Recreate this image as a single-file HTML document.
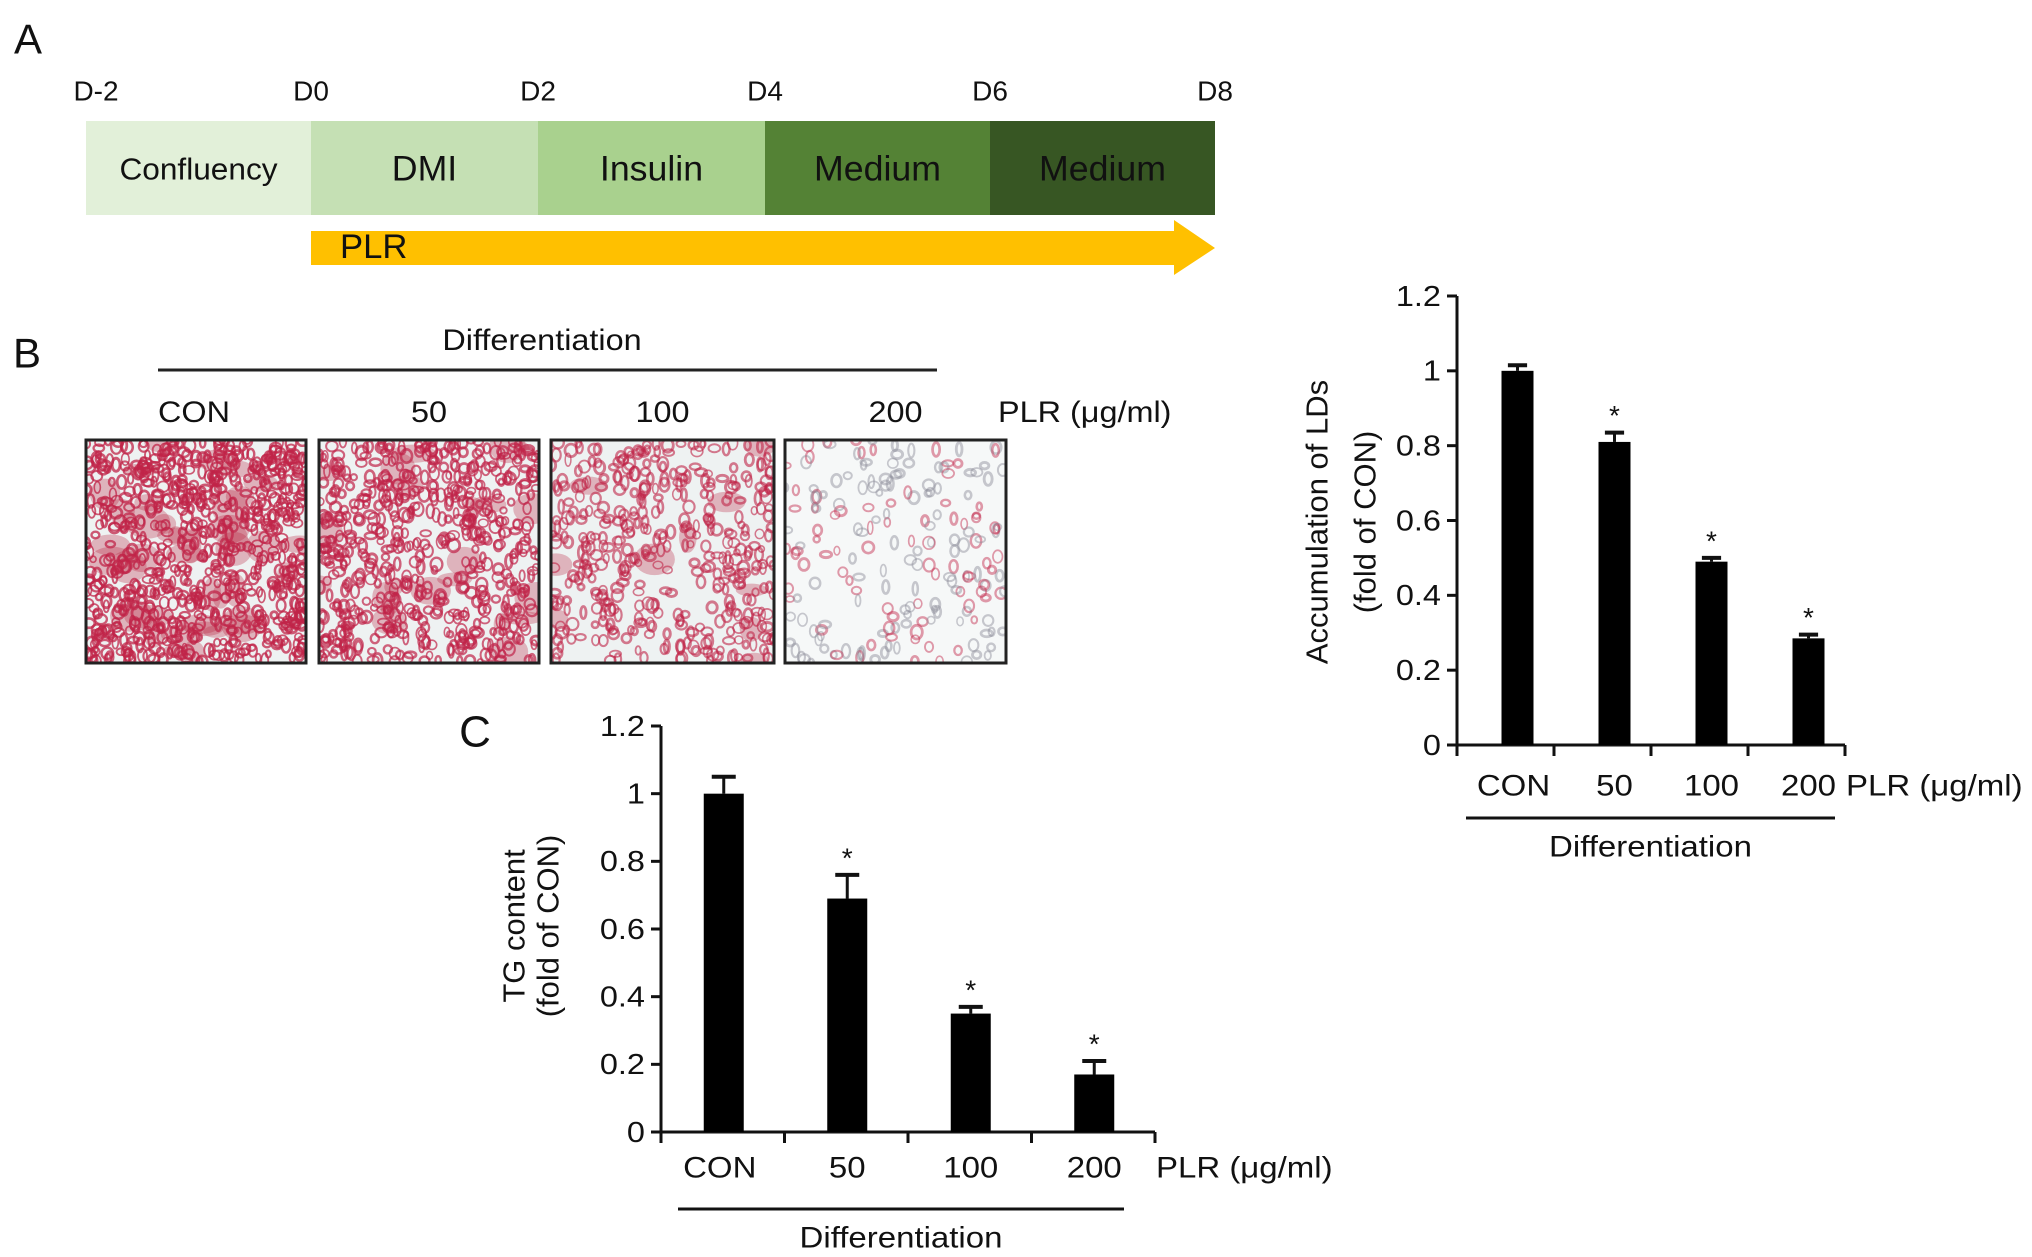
<!DOCTYPE html>
<html><head><meta charset="utf-8"><style>
html,body{margin:0;padding:0;background:#fff;}
svg{display:block;font-family:"Liberation Sans",Arial,sans-serif;}
</style></head><body>
<svg id="fig" width="2032" height="1257" viewBox="0 0 2032 1257" xmlns="http://www.w3.org/2000/svg"></svg>
<script>
// ---- Chart data ----
const categories = ["CON","50","100","200"];
const ldValues = [1.0, 0.81, 0.49, 0.285];
const ldErrors = [0.015, 0.025, 0.01, 0.01];
const ldStars = [false, true, true, true];
const tgValues = [1.0, 0.69, 0.35, 0.17];
const tgErrors = [0.05, 0.07, 0.02, 0.04];
const tgStars = [false, true, true, true];
const yTicks = [0, 0.2, 0.4, 0.6, 0.8, 1, 1.2];
const yTickLabels = ["0","0.2","0.4","0.6","0.8","1","1.2"];
const dayLabels = ["D-2","D0","D2","D4","D6","D8"];
const stageLabels = ["Confluency","DMI","Insulin","Medium","Medium"];

const NS="http://www.w3.org/2000/svg";
const svg=document.getElementById('fig');
function el(tag,attrs,parent){const e=document.createElementNS(NS,tag);for(const k in attrs)e.setAttribute(k,attrs[k]);(parent||svg).appendChild(e);return e;}
function txt(x,y,s,size,anchor,sx,parent,name){
  const t=el('text',{x:0,y:0,'font-size':size,'text-anchor':anchor||'middle','dominant-baseline':'central',fill:'#111',transform:`translate(${x},${y}) scale(${sx||1},1)`},parent);
  t.textContent=s;
  
  
  return t;
}

// ---- Panel letters ----
txt(28,39,"A",42,'middle',1,null,'panel-a-label');
txt(27,353,"B",42,'middle',1,null,'panel-b-label');
txt(475,732,"C",44,'middle',1,null,'panel-c-label');

// ---- Panel A timeline ----
const bounds=[86,311,538,765,990,1215];
const stageColors=["#e2f0d9","#c5e0b4","#a9d18e","#548235","#375623"];
const gA=el('g',{});


dayLabels.forEach((d,i)=>{ txt(bounds[i]+ (i===0?10:0),91,d,28,'middle',1.0,gA,'day-label'); });
stageLabels.forEach((s,i)=>{
  const r=el('rect',{x:bounds[i],y:121,width:bounds[i+1]-bounds[i],height:94,fill:stageColors[i]},gA);
  
  
  txt((bounds[i]+bounds[i+1])/2,169,s,i===0?31:35,'middle',1.02,gA,'stage-label');
});
const arrow=el('polygon',{points:"311,231 1174,231 1174,220 1215,248 1174,275 1174,265 311,265",fill:"#ffc000"},gA);


txt(340,247,"PLR",34,'start',1.02,gA,'plr-arrow-label');

// ---- Panel B micrographs ----
txt(542,340,"Differentiation",30,'middle',1.08,null,'differentiation-label');
el('line',{x1:158,y1:370,x2:937,y2:370,stroke:'#222','stroke-width':3});
const imgX=[86,319,551,785], imgW=[220,220,223,221];
categories.forEach((c,i)=>txt(imgX[i]+imgW[i]/2+ (i===0?-2:0),412,c,30,'middle',1.08,null,'dose-label'));
txt(998,412,"PLR (μg/ml)",30,'start',1.08,null,'plr-unit-label');
let seed=12345;function rnd(){seed=(seed*1103515245+12345)%2147483648;return seed/2147483648;}
const dens=[750,600,420,200], redAlpha=[0.75,0.7,0.6,0.45];
imgX.forEach((x,i)=>{
  const g=el('g',{});
  
  
  el('rect',{x:x,y:440,width:imgW[i],height:223,fill:i===3?'#f6f8f8':'#eef2f2'},g);
  const cp=el('clipPath',{id:'cp'+i},g);
  el('rect',{x:x,y:440,width:imgW[i],height:223},cp);
  const inner=el('g',{'clip-path':`url(#cp${i})`},g);
  if(i<3){for(let k=0;k<[40,22,10][i];k++){el('ellipse',{cx:x+rnd()*imgW[i],cy:440+rnd()*223,rx:8+rnd()*16,ry:6+rnd()*12,fill:'#b8203f','fill-opacity':0.3},inner);}}
  for(let k=0;k<dens[i];k++){
    const gray=i===3&&rnd()<0.55;
    el('ellipse',{cx:x+rnd()*imgW[i],cy:440+rnd()*223,rx:2.5+rnd()*3.5,ry:3+rnd()*4,fill:'none',stroke:gray?'#8a8a96':'#c02448','stroke-width':1.5+rnd()*1.5,'stroke-opacity':redAlpha[i]},inner);
  }
  el('rect',{x:x,y:440,width:imgW[i],height:223,fill:'none',stroke:'#222','stroke-width':3},g);
});

// ---- Bar chart helper ----
function barChart(o){
  const g=el('g',{});
  
  
  const yS=v=>o.y0-(v/1.2)*(o.y0-o.y12);
  el('line',{x1:o.ax,y1:o.y12,x2:o.ax,y2:o.y0+11,stroke:'#111','stroke-width':3},g);
  el('line',{x1:o.ax,y1:o.y0,x2:o.xEnd,y2:o.y0,stroke:'#111','stroke-width':3},g);
  yTicks.forEach((t,i)=>{
    el('line',{x1:o.ax-10,y1:yS(t),x2:o.ax,y2:yS(t),stroke:'#111','stroke-width':3},g);
    txt(o.ax-16,yS(t),yTickLabels[i],29,'end',1.12,g,'y-tick-label');
  });
  const step=(o.xEnd-o.ax)/categories.length;
  for(let i=0;i<=categories.length;i++){el('line',{x1:o.ax+i*step,y1:o.y0,x2:o.ax+i*step,y2:o.y0+11,stroke:'#111','stroke-width':3},g);}
  categories.forEach((c,i)=>{
    const cx=o.ax+step*(i+0.5)-o.shift;
    const v=o.values[i],e=o.errors[i];
    const top=yS(v+e);
    el('line',{x1:cx,y1:yS(v),x2:cx,y2:top,stroke:'#111','stroke-width':3},g);
    el('line',{x1:cx-o.bw*0.3,y1:top,x2:cx+o.bw*0.3,y2:top,stroke:'#111','stroke-width':4},g);
    const b=el('rect',{x:cx-o.bw/2,y:yS(v),width:o.bw,height:o.y0-yS(v),fill:'#000'},g);
    
    
    if(o.stars[i]) txt(cx,top-17,"*",28,'middle',1,g,'significance-star');
    txt(cx+(i===0?-4:0),o.labY,c,30,'middle',1.1,g,'x-tick-label');
  });
  txt(o.xEnd+1,o.labY,"PLR (μg/ml)",30,'start',1.1,g,'x-axis-unit');
  el('line',{x1:o.ulx1,y1:o.uly,x2:o.ulx2,y2:o.uly,stroke:'#111','stroke-width':3},g);
  txt((o.ulx1+o.ulx2)/2,o.uly+28,"Differentiation",30,'middle',1.1,g,'x-axis-title');
  o.title.forEach((s,k)=>{
    const t=el('text',{x:0,y:0,'font-size':31,'text-anchor':'middle','dominant-baseline':'central',fill:'#111',transform:`translate(${o.tx[k]},${o.ty}) rotate(-90)`},g);
    t.textContent=s;
    
    
  });
}
barChart({name:'ld-accumulation-chart',ax:1457,xEnd:1845,y0:745,y12:296,bw:32,shift:-12,values:ldValues,errors:ldErrors,stars:ldStars,labY:785,uly:818,ulx1:1466,ulx2:1835,title:["Accumulation of LDs","(fold of CON)"],tx:[1317,1365],ty:522});
barChart({name:'tg-content-chart',ax:661,xEnd:1155,y0:1132,y12:726,bw:40,shift:-1,values:tgValues,errors:tgErrors,stars:tgStars,labY:1167,uly:1209,ulx1:678,ulx2:1124,title:["TG content","(fold of CON)"],tx:[514,548],ty:926});
</script>
</body></html>
